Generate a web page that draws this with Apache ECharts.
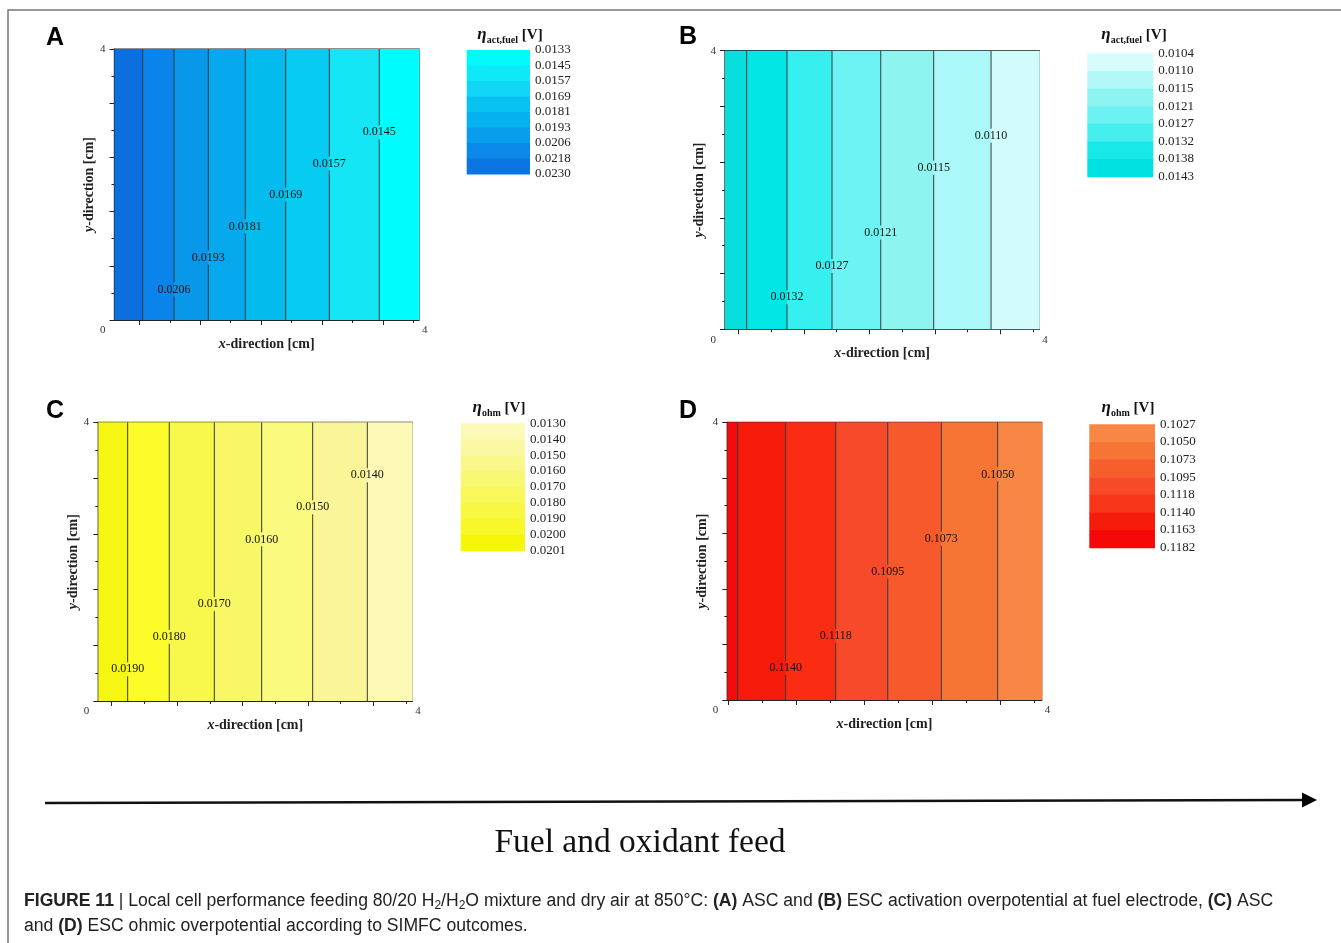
<!DOCTYPE html>
<html>
<head>
<meta charset="utf-8">
<script src="https://cdn.jsdelivr.net/npm/echarts@6/dist/echarts.min.js"></script>
<style>
  html, body { margin: 0; padding: 0; background: #fff; }
  #chart { width: 1341px; height: 943px; }
</style>
</head>
<body>
<div id="chart"></div>
<script>
// contour band edges along x (cm), colours of bands left -> right
var boundsA = [0, 0.37, 0.782, 1.232, 1.718, 2.249, 2.822, 3.478, 4];
var colorsA = ['#0b6fe0', '#0a83ea', '#0897e9', '#07a9ee', '#04bbee', '#08cbf2', '#14e6f6', '#00fcfd'];
var lineTextsA = ['', '0.0206', '0.0193', '0.0181', '0.0169', '0.0157', '0.0145'];
var lineYsA = [-1, 0.45, 0.92, 1.38, 1.85, 2.31, 2.77];
var legColorsA = ['#00fbfd', '#0ee9f8', '#12d6f5', '#08c3f2', '#05b1ef', '#089eeb', '#0a89e8', '#0a75e3'];
var legLabelsA = ['0.0133', '0.0145', '0.0157', '0.0169', '0.0181', '0.0193', '0.0206', '0.0218', '0.0230'];
var majorA = [0.326, 1.126, 1.926, 2.726, 3.526];
var minorA = [0.726, 1.526, 2.326, 3.126, 3.926];

var boundsB = [0, 0.276, 0.789, 1.362, 1.982, 2.656, 3.386, 4];
var colorsB = ['#08dede', '#02e6e6', '#36f0f0', '#6cf4f4', '#8ef4f0', '#aaf8f8', '#d2fcfc'];
var lineTextsB = ['', '0.0132', '0.0127', '0.0121', '0.0115', '0.0110'];
var lineYsB = [-1, 0.46, 0.91, 1.39, 2.32, 2.78];
var legColorsB = ['#d6fcfc', '#b2f8f8', '#8ef4f2', '#6cf2f2', '#46eeee', '#18e8e8', '#00e2e2'];
var legLabelsB = ['0.0104', '0.0110', '0.0115', '0.0121', '0.0127', '0.0132', '0.0138', '0.0143'];
var majorB = [0.17, 1.003, 1.837, 2.67, 3.503];
var minorB = [0.587, 1.42, 2.253, 3.087, 3.92];

var boundsC = [0, 0.374, 0.904, 1.478, 2.081, 2.731, 3.427, 4];
var colorsC = ['#f6f614', '#fcfc2a', '#f8f84c', '#f8f866', '#fafa7e', '#faf698', '#fcfab6'];
var lineTextsC = ['0.0190', '0.0180', '0.0170', '0.0160', '0.0150', '0.0140'];
var lineYsC = [0.455, 0.92, 1.39, 2.32, 2.78, 3.24];
var legColorsC = ['#fcfab8', '#faf8a2', '#faf88a', '#f8f872', '#f8f85a', '#f8f842', '#f8f828', '#f6f60a'];
var legLabelsC = ['0.0130', '0.0140', '0.0150', '0.0160', '0.0170', '0.0180', '0.0190', '0.0200', '0.0201'];
var majorC = [0.17, 1.003, 1.837, 2.67, 3.503];
var minorC = [0.587, 1.42, 2.253, 3.087, 3.92];

var boundsD = [0, 0.132, 0.743, 1.379, 2.041, 2.723, 3.44, 4];
var colorsD = ['#f40c0c', '#f61a0a', '#fa2c12', '#f64a2a', '#f65a2c', '#f67434', '#f88644'];
var lineTextsD = ['', '0.1140', '0.1118', '0.1095', '0.1073', '0.1050'];
var lineYsD = [-1, 0.46, 0.92, 1.85, 2.32, 3.25];
var legColorsD = ['#f88644', '#f67434', '#f65e2e', '#f74a28', '#f8361a', '#f61c0c', '#f40808'];
var legLabelsD = ['0.1027', '0.1050', '0.1073', '0.1095', '0.1118', '0.1140', '0.1163', '0.1182'];
var majorD = [0.013, 0.879, 1.745, 2.611, 3.477];
var minorD = [0.446, 1.312, 2.178, 3.044, 3.91];

var SERIF = '"Liberation Serif", "DejaVu Serif", serif';
var SANS = '"Liberation Sans", Arial, sans-serif';

var panels = [
  { letter: 'A', at: [55, 38], rect: [114.5, 49, 304.5, 271], gapX: 11, gapY: 12,
    bounds: boundsA, colors: colorsA, texts: lineTextsA, ys: lineYsA, major: majorA, minor: minorA,
    leg: [466.7, 50, 63.3, 124], legColors: legColorsA, legLabels: legLabelsA, legTitle: 'act,fuel', titleAt: [510, 35] },
  { letter: 'B', at: [688, 37], rect: [725, 50.7, 314.3, 278.6], gapX: 13, gapY: 14,
    bounds: boundsB, colors: colorsB, texts: lineTextsB, ys: lineYsB, major: majorB, minor: minorB,
    leg: [1087.3, 53.3, 66, 123.4], legColors: legColorsB, legLabels: legLabelsB, legTitle: 'act,fuel', titleAt: [1134, 35] },
  { letter: 'C', at: [55, 411], rect: [98.3, 422.3, 314, 278.7], gapX: 14, gapY: 14,
    bounds: boundsC, colors: colorsC, texts: lineTextsC, ys: lineYsC, major: majorC, minor: minorC,
    leg: [460.7, 423.3, 64.3, 127.4], legColors: legColorsC, legLabels: legLabelsC, legTitle: 'ohm', titleAt: [499, 408] },
  { letter: 'D', at: [688, 411], rect: [727.3, 422.3, 314.4, 277.7], gapX: 16, gapY: 15,
    bounds: boundsD, colors: colorsD, texts: lineTextsD, ys: lineYsD, major: majorD, minor: minorD,
    leg: [1089.3, 424.3, 65.7, 123.4], legColors: legColorsD, legLabels: legLabelsD, legTitle: 'ohm', titleAt: [1128, 408] }
];

var chart = echarts.init(document.getElementById('chart'));
var option = { animation: false, grid: [], xAxis: [], yAxis: [], series: [], graphic: [] };

var nameStyle = {
  fontFamily: SERIF, fontWeight: 'bold', fontSize: 14, color: '#222',
  rich: { i: { fontFamily: SERIF, fontWeight: 'bold', fontStyle: 'italic', fontSize: 14, color: '#222' } }
};

panels.forEach(function (p) {
  // plot grid
  var gi = option.grid.length;
  option.grid.push({ left: p.rect[0], top: p.rect[1], width: p.rect[2], height: p.rect[3],
    show: true, borderColor: '#222', borderWidth: 1.2, backgroundColor: 'transparent' });
  var xi = option.xAxis.length;
  option.xAxis.push({
    gridIndex: gi, type: 'value', min: 0, max: 4, position: 'bottom',
    name: '{i|x}-direction [cm]', nameLocation: 'middle', nameGap: p.gapX, nameTextStyle: nameStyle,
    axisLine: { lineStyle: { color: '#222', width: 1.2 } },
    axisTick: { customValues: p.major, length: 5, lineStyle: { color: '#222' } },
    axisLabel: {
      customValues: [0, 4], margin: 5, alignMinLabel: 'right', alignMaxLabel: 'left',
      fontFamily: SERIF, fontSize: 11, color: '#333',
      formatter: function (v) { return v < 2 ? '{l|0}' : '{r|4}'; },
      rich: { l: { padding: [0, 9, 0, 0], fontFamily: SERIF, fontSize: 11 }, r: { padding: [0, 0, 0, 3], fontFamily: SERIF, fontSize: 11 } }
    },
    splitLine: { show: false }
  });
  option.xAxis.push({
    gridIndex: gi, type: 'value', min: 0, max: 4, position: 'bottom',
    axisLine: { show: false },
    axisTick: { customValues: p.minor, length: 3, lineStyle: { color: '#222' } },
    axisLabel: { show: false }, splitLine: { show: false }
  });
  var yi = option.yAxis.length;
  option.yAxis.push({
    gridIndex: gi, type: 'value', min: 0, max: 4, interval: 0.8,
    name: '{i|y}-direction [cm]', nameLocation: 'middle', nameGap: p.gapY, nameTextStyle: nameStyle,
    axisLine: { show: true, lineStyle: { color: '#222', width: 1.2 } },
    axisTick: { show: true, length: 5, lineStyle: { color: '#222' } },
    minorTick: { show: true, splitNumber: 2, length: 3, lineStyle: { color: '#222' } },
    axisLabel: {
      margin: 9, fontFamily: SERIF, fontSize: 11, color: '#333', padding: [0, 0, 6, 0],
      formatter: function (v) { return Math.abs(v - 4) < 1e-6 ? '4' : ''; }
    },
    splitLine: { show: false }, minorSplitLine: { show: false }
  });

  // colour bands
  var bandData = [];
  for (var i = 0; i < p.colors.length; i++) bandData.push([p.bounds[i], p.bounds[i + 1], i]);
  (function (colors) {
    option.series.push({
      type: 'custom', xAxisIndex: xi, yAxisIndex: yi, data: bandData, silent: true, z: 1,
      renderItem: function (params, api) {
        var a = api.coord([api.value(0), 4]);
        var b = api.coord([api.value(1), 0]);
        return { type: 'rect', shape: { x: a[0], y: a[1], width: b[0] - a[0] + 0.5, height: b[1] - a[1] },
          style: { fill: colors[api.value(2)] } };
      }
    });
  })(p.colors);

  // contour lines with labels
  var lineData = [];
  var inner = p.bounds.slice(1, p.bounds.length - 1);
  var offset = inner.length - p.texts.length;
  var texts = [];
  inner.forEach(function (x, k) {
    var t = k - offset >= 0 ? p.texts[k - offset] : '';
    var y = k - offset >= 0 ? p.ys[k - offset] : -1;
    texts.push(t);
    lineData.push([x, y]);
  });
  (function (texts) {
    option.series.push({
      type: 'custom', xAxisIndex: xi, yAxisIndex: yi, data: lineData, silent: true, z: 2,
      renderItem: function (params, api) {
        var x = api.value(0), ly = api.value(1);
        var top = api.coord([x, 4]), bot = api.coord([x, 0]);
        var ls = { stroke: '#3a3a3a', lineWidth: 1 };
        var t = texts[params.dataIndex];
        if (!(ly >= 0) || !t) {
          return { type: 'line', shape: { x1: top[0], y1: top[1], x2: bot[0], y2: bot[1] }, style: ls };
        }
        var c = api.coord([x, ly]);
        return { type: 'group', children: [
          { type: 'line', shape: { x1: top[0], y1: top[1], x2: c[0], y2: c[1] - 7 }, style: ls },
          { type: 'line', shape: { x1: c[0], y1: c[1] + 7, x2: bot[0], y2: bot[1] }, style: ls },
          { type: 'text', style: { text: t, x: c[0], y: c[1], align: 'center', verticalAlign: 'middle',
            fontFamily: SERIF, fontSize: 12, fill: '#111' } }
        ] };
      }
    });
  })(texts);

  // colour bar legend
  var lg = option.grid.length;
  option.grid.push({ left: p.leg[0], top: p.leg[1], width: p.leg[2], height: p.leg[3], show: false });
  var lx = option.xAxis.length;
  option.xAxis.push({ gridIndex: lg, type: 'value', min: 0, max: 1, show: false });
  var ly = option.yAxis.length;
  (function (labels) {
    option.yAxis.push({
      gridIndex: lg, type: 'value', min: 0, max: labels.length - 1, interval: 1, inverse: true, position: 'right',
      axisLine: { show: false }, axisTick: { show: false }, splitLine: { show: false },
      axisLabel: { margin: 5, fontFamily: SERIF, fontSize: 13, color: '#222', padding: [4, 0, 0, 0],
        formatter: function (v) { return labels[Math.round(v)]; } }
    });
  })(p.legLabels);
  var legData = p.legColors.map(function (c, i) { return [i, i]; });
  (function (colors) {
    option.series.push({
      type: 'custom', xAxisIndex: lx, yAxisIndex: ly, data: legData, silent: true,
      renderItem: function (params, api) {
        var i = api.value(0);
        var a = api.coord([0, i]), b = api.coord([1, i + 1]);
        return { type: 'rect', shape: { x: a[0], y: Math.min(a[1], b[1]), width: b[0] - a[0], height: Math.abs(b[1] - a[1]) + 0.5 },
          style: { fill: colors[i] } };
      }
    });
  })(p.legColors);

  // panel letter and legend title
  option.graphic.push({ type: 'text', x: p.at[0], y: p.at[1],
    style: { text: p.letter, font: 'bold 25px ' + SANS, fill: '#000', align: 'center', verticalAlign: 'middle' } });
  option.graphic.push({ type: 'text', x: p.titleAt[0], y: p.titleAt[1],
    style: { text: '{e|η}{s|' + p.legTitle + '} {v|[V]}', align: 'center', verticalAlign: 'middle',
      font: 'bold 15px ' + SERIF, fill: '#111',
      rich: {
        e: { fontFamily: SERIF, fontSize: 17, fontWeight: 'bold', fontStyle: 'italic', lineHeight: 20, fill: '#111' },
        s: { fontFamily: SERIF, fontSize: 10, fontWeight: 'bold', lineHeight: 10, verticalAlign: 'bottom', fill: '#111' },
        v: { fontFamily: SERIF, fontSize: 15, fontWeight: 'bold', lineHeight: 20, fill: '#111' }
      } } });
});

// frame, arrow and captions
option.graphic.push(
  { type: 'polyline', shape: { points: [[8, 943], [8, 10], [1341, 10]] }, style: { stroke: '#777', lineWidth: 1.5, fill: null } },
  { type: 'line', shape: { x1: 45, y1: 803, x2: 1304, y2: 800 }, style: { stroke: '#111', lineWidth: 2.5 } },
  { type: 'polygon', shape: { points: [[1302, 792.5], [1317, 800], [1302, 807.5]] }, style: { fill: '#000' } },
  { type: 'text', x: 640, y: 843, style: { text: 'Fuel and oxidant feed', font: '33.5px ' + SERIF, fill: '#111', align: 'center', verticalAlign: 'middle' } },
  { type: 'text', x: 24, y: 901, style: {
      text: '{b|FIGURE 11} | Local cell performance feeding 80/20 H{s|2}/H{s|2}O mixture and dry air at 850°C: {b|(A)} ASC and {b|(B)} ESC activation overpotential at fuel electrode, {b|(C)} ASC',
      font: '17.6px ' + SANS, fill: '#222', align: 'left', verticalAlign: 'middle',
      rich: {
        b: { fontFamily: SANS, fontSize: 17.6, fontWeight: 'bold', lineHeight: 22, fill: '#222' },
        s: { fontFamily: SANS, fontSize: 12, lineHeight: 11, verticalAlign: 'bottom', fill: '#222' }
      } } },
  { type: 'text', x: 24, y: 926, style: {
      text: 'and {b|(D)} ESC ohmic overpotential according to SIMFC outcomes.',
      font: '17.6px ' + SANS, fill: '#222', align: 'left', verticalAlign: 'middle',
      rich: { b: { fontFamily: SANS, fontSize: 17.6, fontWeight: 'bold', fill: '#222' } } } }
);

chart.setOption(option);
</script>
</body>
</html>
